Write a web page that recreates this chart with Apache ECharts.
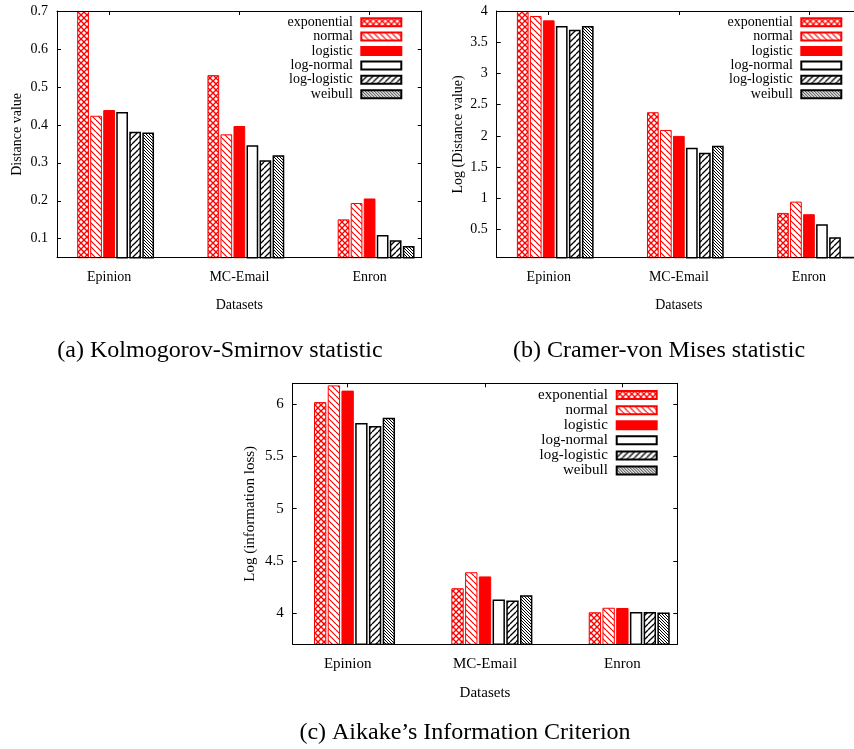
<!DOCTYPE html>
<html><head><meta charset="utf-8">
<script src="https://cdn.jsdelivr.net/npm/echarts@6/dist/echarts.min.js"></script>
<style>html,body{margin:0;padding:0;background:#fff}#c{width:854px;height:749px}</style>
</head><body><div id="c"></div>
<script>
const categories = ['Epinion', 'MC-Email', 'Enron'];
const seriesNames = ['exponential', 'normal', 'logistic', 'log-normal', 'log-logistic', 'weibull'];

// (a) Kolmogorov-Smirnov statistic
const ksExponential = [0.70, 0.531, 0.151];
const ksNormal      = [0.424, 0.375, 0.194];
const ksLogistic    = [0.439, 0.397, 0.206];
const ksLogNormal   = [0.434, 0.346, 0.110];
const ksLogLogistic = [0.382, 0.307, 0.096];
const ksWeibull     = [0.380, 0.320, 0.081];

// (b) Cramer-von Mises statistic (log)
const cvmExponential = [4.00, 2.379, 0.767];
const cvmNormal      = [3.92, 2.095, 0.948];
const cvmLogistic    = [3.85, 2.000, 0.746];
const cvmLogNormal   = [3.76, 1.812, 0.586];
const cvmLogLogistic = [3.70, 1.732, 0.378];
const cvmWeibull     = [3.76, 1.844, 0.065];

// (c) Aikake's Information Criterion (log)
const aicExponential = [6.02, 4.237, 4.007];
const aicNormal      = [6.18, 4.390, 4.050];
const aicLogistic    = [6.13, 4.350, 4.048];
const aicLogNormal   = [5.82, 4.130, 4.010];
const aicLogLogistic = [5.79, 4.120, 4.010];
const aicWeibull     = [5.87, 4.170, 4.005];

const ksTicks  = [0.1, 0.2, 0.3, 0.4, 0.5, 0.6, 0.7];
const cvmTicks = [0.5, 1, 1.5, 2, 2.5, 3, 3.5, 4];
const aicTicks = [4, 4.5, 5, 5.5, 6];
const categoryTicks = [0, 1, 2];

const FONT = '"Liberation Serif", "Times New Roman", serif';

function pattern(size, color, lw, dirs) {
  const c = document.createElement('canvas');
  c.width = size; c.height = size;
  const g = c.getContext('2d');
  g.fillStyle = '#fff'; g.fillRect(0, 0, size, size);
  g.strokeStyle = color; g.lineWidth = lw;
  for (const d of dirs) {
    for (const k of [-size, 0, size]) {
      g.beginPath();
      if (d === '\\') { g.moveTo(k, 0); g.lineTo(k + size, size); }
      else { g.moveTo(k + size, 0); g.lineTo(k, size); }
      g.stroke();
    }
  }
  return { image: c, repeat: 'repeat' };
}

const styles = [
  { color: pattern(6, '#ff0000', 1.3, ['\\', '/']), borderColor: '#ff0000', borderWidth: 1 },
  { color: pattern(6, '#ff0000', 1.2, ['\\']), borderColor: '#ff0000', borderWidth: 1 },
  { color: '#ff0000', borderColor: '#ff0000', borderWidth: 1 },
  { color: '#ffffff', borderColor: '#000000', borderWidth: 1.5 },
  { color: pattern(6, '#000000', 1.3, ['/']), borderColor: '#000000', borderWidth: 1.5 },
  { color: pattern(3, '#000000', 1.0, ['\\']), borderColor: '#000000', borderWidth: 1.5 }
];

const panels = [
  { left: 57, top: 11, width: 364.7, height: 246.7, ymin: 0.05, ymax: 0.7, ticks: ksTicks,
    yname: 'Distance value', ynameGap: 33, fs: 14, xLabelMargin: 13, xNameGap: 41,
    data: [ksExponential, ksNormal, ksLogistic, ksLogNormal, ksLogLogistic, ksWeibull],
    legend: { right: 451.7, top: 15 } },
  { left: 496.7, top: 11, width: 364.3, height: 246.7, ymin: 0.05, ymax: 4, ticks: cvmTicks,
    yname: 'Log (Distance value)', ynameGap: 31, fs: 14, xLabelMargin: 13, xNameGap: 41,
    data: [cvmExponential, cvmNormal, cvmLogistic, cvmLogNormal, cvmLogLogistic, cvmWeibull],
    legend: { right: 11.7, top: 15 } },
  { left: 292.7, top: 383.3, width: 384.6, height: 261, ymin: 3.7, ymax: 6.2, ticks: aicTicks,
    yname: 'Log (information loss)', ynameGap: 35, fs: 15, xLabelMargin: 12, xNameGap: 41,
    data: [aicExponential, aicNormal, aicLogistic, aicLogNormal, aicLogLogistic, aicWeibull],
    legend: { right: 196.3, top: 387.5 } }
];

const lineStyle = { color: '#000', width: 1 };
const grid = [], xAxis = [], yAxis = [], series = [], legend = [];
panels.forEach((p, i) => {
  grid.push({ left: p.left, top: p.top, width: p.width, height: p.height,
    containLabel: false, outerBoundsMode: 'none' });
  const ts = { fontFamily: FONT, fontSize: p.fs, color: '#000' };
  xAxis.push({ type: 'value', gridIndex: i, position: 'bottom', min: -0.4, max: 2.4, z: 5,
    axisLine: { show: true, onZero: false, lineStyle },
    axisTick: { show: false }, splitLine: { show: false },
    axisLabel: { show: true, customValues: categoryTicks, margin: p.xLabelMargin,
      formatter: v => categories[Math.round(v)], ...ts },
    name: 'Datasets', nameLocation: 'middle', nameGap: p.xNameGap, nameTextStyle: ts });
  xAxis.push({ type: 'value', gridIndex: i, position: 'top', min: -0.4, max: 2.4, z: 5,
    axisLine: { show: true, onZero: false, lineStyle },
    axisTick: { show: true, inside: true, length: 4, customValues: categoryTicks, lineStyle: { color: '#000' } },
    axisLabel: { show: false }, splitLine: { show: false } });
  xAxis.push({ type: 'value', gridIndex: i, show: false, min: -0.45, max: 2.35,
    axisLine: { onZero: false }, splitLine: { show: false } });
  yAxis.push({ type: 'value', gridIndex: i, position: 'left', min: p.ymin, max: p.ymax, z: 5,
    axisLine: { show: true, onZero: false, lineStyle },
    axisTick: { show: true, inside: true, length: 4, customValues: p.ticks, lineStyle: { color: '#000' } },
    axisLabel: { show: true, customValues: p.ticks, margin: 9, ...ts },
    splitLine: { show: false },
    name: p.yname, nameLocation: 'middle', nameGap: p.ynameGap, nameRotate: 90, nameTextStyle: ts });
  yAxis.push({ type: 'value', gridIndex: i, position: 'right', min: p.ymin, max: p.ymax, z: 5,
    axisLine: { show: true, onZero: false, lineStyle },
    axisTick: { show: true, inside: true, length: 4, customValues: p.ticks, lineStyle: { color: '#000' } },
    axisLabel: { show: false }, splitLine: { show: false } });
  p.data.forEach((arr, s) => {
    series.push({ type: 'bar', name: seriesNames[s], xAxisIndex: 3 * i + 2, yAxisIndex: 2 * i,
      data: arr.map((v, k) => [categoryTicks[k], v]),
      barWidth: '9%', barGap: '11.11%', clip: true,
      itemStyle: styles[s], emphasis: { disabled: true } });
  });
  legend.push({ data: seriesNames, orient: 'vertical', align: 'right', right: p.legend.right, top: p.legend.top,
    itemWidth: 40, itemHeight: 8, itemGap: 0, padding: 0, icon: 'rect', selectedMode: false,
    formatter: n => n + ' ',
    textStyle: { fontFamily: FONT, fontSize: p.fs, color: '#000', lineHeight: p.fs === 14 ? 14.4 : 15.1 } });
});

const capFont = { fontFamily: FONT, fontSize: 24, fill: '#000', align: 'center', verticalAlign: 'middle' };
const graphic = [
  { type: 'text', x: 220, y: 351, style: { text: '(a) Kolmogorov-Smirnov statistic', ...capFont } },
  { type: 'text', x: 659, y: 351, style: { text: '(b) Cramer-von Mises statistic', ...capFont } },
  { type: 'text', x: 465, y: 733, style: { text: '(c) Aikake\u2019s Information Criterion', ...capFont } }
];

const chart = echarts.init(document.getElementById('c'), null, { renderer: 'canvas' });
chart.setOption({ animation: false, backgroundColor: '#fff', grid, xAxis, yAxis, series, legend, graphic,
  tooltip: { show: false } });
</script></body></html>
